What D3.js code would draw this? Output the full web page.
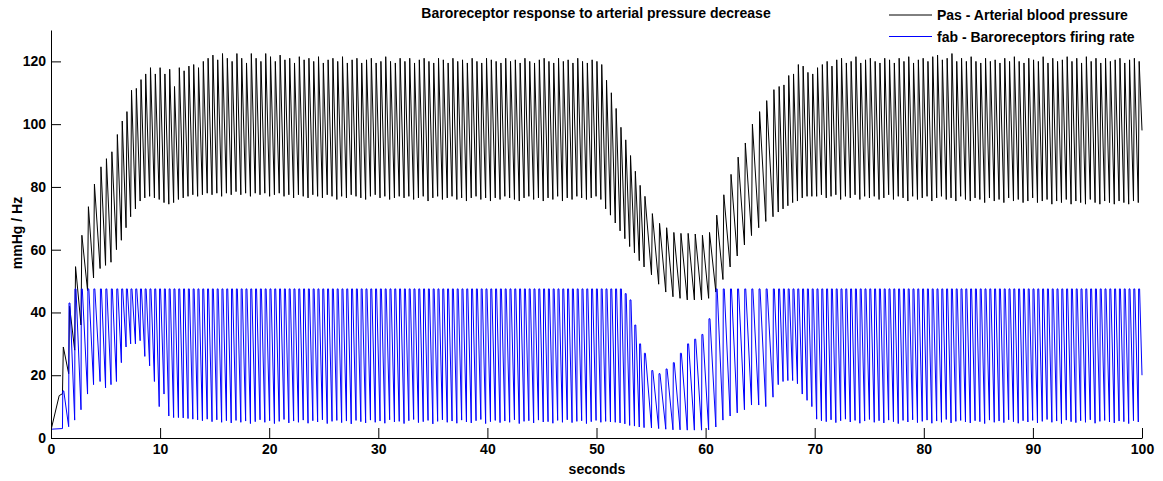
<!DOCTYPE html>
<html lang="en">
<head>
<meta charset="UTF-8">
<title>Baroreceptor response to arterial pressure decrease</title>
<script src="https://d3js.org/d3.v7.min.js"></script>
<style>
  body { margin: 0; background: #fff; }
  svg text { font-family: "Liberation Sans", Arial, Helvetica, sans-serif; font-weight: bold; }
</style>
</head>
<body>
<svg width="1163" height="481"></svg>
<script>
// ---- data (one entry per heart beat) ----
// beat onsets, seconds
const beatT = [
  1.05, 1.62, 2.17, 2.75, 3.35, 3.9, 4.5, 5.0, 5.5, 6.0, 6.45, 6.88, 7.3, 7.74, 8.17, 8.6, 9.04, 9.48, 9.92,
  10.36, 10.80, 11.24, 11.68, 12.12, 12.56, 13.00, 13.44, 13.88, 14.32,
  14.76, 15.20, 15.64, 16.08, 16.52, 16.96, 17.40, 17.84, 18.28, 18.72,
  19.16, 19.60, 20.04, 20.48, 20.92, 21.36, 21.80, 22.24, 22.68, 23.12,
  23.56, 24.00, 24.44, 24.88, 25.32, 25.76, 26.20, 26.64, 27.08, 27.52,
  27.96, 28.40, 28.84, 29.28, 29.72, 30.16, 30.60, 31.04, 31.48, 31.92,
  32.36, 32.80, 33.24, 33.68, 34.12, 34.56, 35.00, 35.44, 35.88, 36.32,
  36.76, 37.20, 37.64, 38.08, 38.52, 38.96, 39.40, 39.84, 40.28, 40.72,
  41.16, 41.60, 42.04, 42.48, 42.92, 43.36, 43.80, 44.24, 44.68, 45.12,
  45.56, 46.00, 46.44, 46.88, 47.32, 47.76, 48.20, 48.64, 49.08, 49.52,
  49.96, 50.40, 50.84, 51.28, 51.72, 52.16, 52.60, 53.04, 53.48, 53.92, 54.36,
  55.04, 55.70, 56.35, 57.01, 57.66, 58.32, 58.97, 59.63, 60.28, 60.94,
  61.59, 62.25, 62.90, 63.56, 64.21, 64.87, 65.52, 66.18,
  66.66, 67.10, 67.54, 67.98, 68.42, 68.86, 69.30, 69.74, 70.18, 70.62,
  71.06, 71.50, 71.94, 72.38, 72.82, 73.26, 73.70, 74.14, 74.58, 75.02,
  75.46, 75.90, 76.34, 76.78, 77.22, 77.66, 78.10, 78.54, 78.98, 79.42,
  79.86, 80.30, 80.74, 81.18, 81.62, 82.06, 82.50, 82.94, 83.38, 83.82,
  84.26, 84.70, 85.14, 85.58, 86.02, 86.46, 86.90, 87.34, 87.78, 88.22,
  88.66, 89.10, 89.54, 89.98, 90.42, 90.86, 91.30, 91.74, 92.18, 92.62,
  93.06, 93.50, 93.94, 94.38, 94.82, 95.26, 95.70, 96.14, 96.58, 97.02,
  97.46, 97.90, 98.34, 98.78, 99.22, 99.66
];

// Pas systolic peak of each beat, mmHg
const pasPeak = [
  29, 42, 54.6, 64.6, 73.7, 80.9, 86.4, 89, 91.2, 96.7, 101, 104, 110.8, 111.4, 114.2, 116, 118, 116, 118,
  116, 117.5, 112, 118, 117, 118.5, 119, 118, 120, 121,
  122, 120.5, 122.5, 121, 120, 122.5, 121, 119.5, 122.5, 121,
  120, 122.5, 121.5, 120, 122, 120.5, 121, 119.5, 121.5, 120.5,
  121, 120, 121.5, 119.5, 120.5, 121, 120, 121.5, 119.5, 120.5,
  121, 119.5, 120.5, 121, 119.5, 120, 121.5, 120, 119.5, 121,
  120, 121, 119.5, 120.5, 121, 120, 119.5, 121, 120.5, 119.5,
  121, 120, 120.5, 119.5, 121, 120, 119.5, 121, 120.5, 120,
  119.5, 121, 120, 120.5, 119.5, 121, 120, 119.5, 120.5, 121,
  120, 119.5, 121, 120, 120.5, 119.5, 121, 120, 119.5, 120.5,
  120, 119, 114, 110, 105, 99, 95, 90, 85, 80.5, 77,
  71.5, 68.4, 67, 65.5, 65.2, 65.2, 65, 64.6, 65.5, 71,
  77.5, 84, 89.5, 94, 100, 104, 107.5, 111,
  112, 112.5, 115.5, 116, 119, 118.5, 116.5, 116, 118, 119,
  120, 118.5, 120.5, 121, 119.5, 120, 121.5, 119.5, 120.5, 121,
  120, 119.5, 121, 120.5, 119.5, 121, 120, 121.5, 119.5, 120.5,
  121, 120, 121.5, 122, 120.5, 121, 122.5, 120, 121, 120,
  121.5, 120, 119.5, 121, 120, 120.5, 119.5, 121, 120, 121.5,
  120, 119.5, 121, 120.5, 120, 121.5, 119.5, 121, 120, 120.5,
  121.5, 120, 121, 119.5, 121.5, 120, 121, 119.5, 121, 120,
  120.5, 121, 119.5, 120.5, 121, 120
];

// Pas diastolic value at each beat onset, mmHg
const pasTrough = [
  14, 20.5, 28, 36, 47, 51, 54, 55, 56, 60, 63, 67, 70.5, 73, 75.5, 76.5, 77, 76.5, 76,
  75, 74.5, 75, 76, 76.5, 77, 77.5, 77, 77.5, 78,
  77.5, 78, 77, 78, 77.5, 78.5, 77.5, 78, 77, 78,
  77.5, 78, 77, 77.5, 78, 77, 77.5, 76.5, 77.5, 77,
  76.5, 77.5, 77, 76.5, 77.5, 77, 76, 77, 76.5, 77.5,
  77, 76.5, 76, 77, 77.5, 76.5, 77, 76, 76.5, 77,
  76.5, 77, 76, 76.5, 77, 75.5, 76.5, 77, 76, 76.5,
  77, 76, 76.5, 75.5, 76.5, 77, 76, 76.5, 75.5, 76.5,
  76, 77, 76.5, 76, 75.5, 76.5, 77, 76, 76.5, 75.5,
  76.5, 76, 77, 75.5, 76.5, 76, 77, 76.5, 76, 76.5,
  77, 76, 73, 71, 68.5, 66, 63.5, 61, 59, 56.5, 54.5,
  52, 49, 46.5, 45, 44.5, 44, 44, 44, 44.5, 46.5,
  50.5, 54.5, 58, 61.5, 64.5, 67, 69, 70.5,
  72, 73, 74, 75, 75.5, 76.5, 77, 77, 77, 77.5,
  76.5, 77, 77.5, 76, 77, 76.5, 77.5, 76, 77, 76.5,
  77, 76, 76.5, 77.5, 76, 77, 76.5, 75.5, 77, 76,
  76.5, 77, 75.5, 76.5, 77, 76, 76.5, 75.5, 77, 76,
  75.5, 76.5, 76, 75, 76.5, 75.5, 76, 75, 76.5, 75.5,
  76, 75, 75.5, 76.5, 75, 75.5, 76, 74.5, 75.5, 75,
  76, 74.5, 75.5, 75, 74.5, 76, 75, 74.5, 75.5, 75,
  74.5, 75.5, 75, 74.5, 75.5, 75
];

// fab peak of each beat, Hz
const fabPeak = [
  15, 43, 47.5, 47.5, 47.5, 47.5, 47.5, 47.5, 47.5, 47.5, 47.5, 47.5, 47.5, 47.5, 47.5, 47.5, 47.5, 47.5, 47.5,
  47.5, 47.5, 47.5, 47.5, 47.5, 47.5, 47.5, 47.5, 47.5, 47.5, 47.5, 47.5,
  47.5, 47.5, 47.5, 47.5, 47.5, 47.5, 47.5, 47.5, 47.5, 47.5, 47.5, 47.5,
  47.5, 47.5, 47.5, 47.5, 47.5, 47.5, 47.5, 47.5, 47.5, 47.5, 47.5, 47.5,
  47.5, 47.5, 47.5, 47.5, 47.5, 47.5, 47.5, 47.5, 47.5, 47.5, 47.5, 47.5,
  47.5, 47.5, 47.5, 47.5, 47.5, 47.5, 47.5, 47.5, 47.5, 47.5, 47.5, 47.5,
  47.5, 47.5, 47.5, 47.5, 47.5, 47.5, 47.5, 47.5, 47.5, 47.5, 47.5, 47.5,
  47.5, 47.5, 47.5, 47.5, 47.5, 47.5, 47.5, 47.5, 47.5, 47.5, 47.5, 47.5,
  47.5, 47.5, 47.5, 47.5, 47.5, 47.5, 47.5, 47.5, 47.5, 47.5, 47.5, 47.5,
  46, 44, 36, 30, 27,
  21.5, 20.5, 22, 24, 27, 30, 31.5, 33, 38, 47.5,
  47.5, 47.5, 47.5, 47.5, 47.5, 47.5, 47.5, 47.5,
  47.5, 47.5, 47.5, 47.5, 47.5, 47.5, 47.5, 47.5, 47.5, 47.5, 47.5, 47.5,
  47.5, 47.5, 47.5, 47.5, 47.5, 47.5, 47.5, 47.5, 47.5, 47.5, 47.5, 47.5,
  47.5, 47.5, 47.5, 47.5, 47.5, 47.5, 47.5, 47.5, 47.5, 47.5, 47.5, 47.5,
  47.5, 47.5, 47.5, 47.5, 47.5, 47.5, 47.5, 47.5, 47.5, 47.5, 47.5, 47.5,
  47.5, 47.5, 47.5, 47.5, 47.5, 47.5, 47.5, 47.5, 47.5, 47.5, 47.5, 47.5,
  47.5, 47.5, 47.5, 47.5, 47.5, 47.5, 47.5, 47.5, 47.5, 47.5, 47.5, 47.5,
  47.5, 47.5, 47.5, 47.5
];

// fab value at each beat onset (minimum before the burst), Hz
const fabTrough = [
  3.0, 3.6, 5.7, 9, 14, 17, 18, 16, 17, 18, 24, 29, 30, 30, 31, 26, 23, 18, 10,
  14, 7, 6.5, 6.5, 6.4, 6.2, 6, 5.8, 5.5, 6,
  5.2, 5.8, 5, 5.5, 4.8, 5.6, 5, 5.4, 4.6, 5.2,
  5.8, 5, 5.5, 4.6, 5.3, 5.9, 4.8, 5.4, 5, 5.7,
  4.7, 5.5, 5.1, 5.8, 4.6, 5.3, 5.6, 4.9, 5.4, 4.5,
  5.6, 5.2, 4.8, 5.7, 5, 5.4, 4.7, 5.8, 5.1, 5.3,
  4.6, 5.5, 5.9, 4.9, 5.2, 5.6, 4.5, 5.3, 5.8, 5,
  5.4, 4.7, 5.7, 5.1, 4.8, 5.5, 5.9, 4.6, 5.2, 5.6,
  4.9, 5.4, 5, 5.8, 4.6, 5.3, 5.5, 4.8, 5.7, 5.1,
  5.2, 4.7, 5.6, 5, 5.8, 4.9, 5.3, 5.5, 4.6, 5.2,
  5.6, 5, 5.3, 5.1, 5, 4.8, 4.5, 4, 3.8, 3.5, 3.3,
  3.2, 3, 2.8, 2.6, 2.6, 2.5, 2.5, 2.5, 2.6, 3.5,
  5.7, 7, 8, 9, 10.5, 10.5, 10, 13,
  17, 18, 18.3, 18.3, 17.3, 14, 12, 10, 6, 5.5,
  5.2, 5.8, 4.9, 5.5, 6, 5.1, 5.6, 4.7, 5.4, 5.9,
  5, 5.5, 4.8, 5.7, 5.2, 4.6, 5.6, 5.1, 5.8, 4.9,
  5.3, 5.7, 4.7, 5.4, 5, 5.9, 4.8, 5.3, 5.6, 5.1,
  4.8, 5.5, 5.2, 4.6, 5.7, 5, 5.4, 4.9, 5.8, 5.2,
  4.7, 5.5, 5.1, 5.6, 4.8, 5.3, 5.9, 5, 5.4, 4.6,
  5.7, 5.2, 4.9, 5.5, 5, 5.8, 4.7, 5.3, 5.6, 5.1,
  4.8, 5.4, 5.2, 4.6, 5.5, 5.1
];

// start-up ramp before the first beat and value at the right edge
const pasLeadT = [0, 0.75, 1.0];
const pasLeadV = [2.5, 13.5, 14];
const fabLeadT = [0, 1.0];
const fabLeadV = [2.8, 3.0];
const pasEnd = 98;
const fabEnd = 20;

const xTicks = [0, 10, 20, 30, 40, 50, 60, 70, 80, 90, 100];
const yTicks = [0, 20, 40, 60, 80, 100, 120];

// ---- drawing ----
const svg = d3.select("svg");
const width = +svg.attr("width");
const height = +svg.attr("height");

const x = d3.scaleLinear().domain([0, 100]).range([51, 1142]);
const y = d3.scaleLinear().domain([0, 130]).range([438, 30]);

const RISE = 0.08;   // upstroke duration of a pressure pulse
const FRISE = 0.03, FHOLD = 0.12;

const n = Math.min(beatT.length, pasPeak.length, pasTrough.length, fabPeak.length, fabTrough.length);
console.log("beats", beatT.length, pasPeak.length, pasTrough.length, fabPeak.length, fabTrough.length);

const pasPts = pasLeadT.map((t, i) => [t, pasLeadV[i]]);
const fabPts = fabLeadT.map((t, i) => [t, fabLeadV[i]]);
for (let i = 0; i < n; i++) {
    pasPts.push([beatT[i], pasTrough[i]], [beatT[i] + RISE, pasPeak[i]]);
    fabPts.push([beatT[i], fabTrough[i]], [beatT[i] + FRISE, fabPeak[i]], [beatT[i] + FHOLD, fabPeak[i]]);
}
pasPts.push([100, pasEnd]);
fabPts.push([100, fabEnd]);

svg.append("defs").append("clipPath").attr("id", "plot")
    .append("rect").attr("x", 51).attr("y", 20).attr("width", 1092).attr("height", 419);

const line = d3.line().x(d => x(d[0])).y(d => y(d[1]));

const plot = svg.append("g").attr("clip-path", "url(#plot)");
plot.append("path").datum(pasPts)
    .attr("d", line).attr("fill", "none").attr("stroke", "#000").attr("stroke-width", 1);
plot.append("path").datum(fabPts)
    .attr("d", line).attr("fill", "none").attr("stroke", "#0000ff").attr("stroke-width", 1);

// axes (MATLAB style: ticks inside, no box)
const xAxis = svg.append("g").attr("transform", `translate(0,${y(0)})`)
    .call(d3.axisBottom(x).tickValues(xTicks).tickSizeInner(-10).tickSizeOuter(0).tickPadding(6));
const yAxis = svg.append("g").attr("transform", `translate(${x(0)},0)`)
    .call(d3.axisLeft(y).tickValues(yTicks).tickSizeInner(-10).tickSizeOuter(0).tickPadding(5));

[xAxis, yAxis].forEach(g => {
    g.selectAll("path, line").attr("stroke", "#000");
    g.selectAll("text").attr("font-size", 14).attr("fill", "#000")
        .style("font-family", '"Liberation Sans", Arial, sans-serif').style("font-weight", "bold");
});

svg.append("text").attr("x", 596).attr("y", 18).attr("text-anchor", "middle")
    .attr("font-size", 14).text("Baroreceptor response to arterial pressure decrease");

svg.append("text").attr("x", 597).attr("y", 474).attr("text-anchor", "middle")
    .attr("font-size", 14).text("seconds");

svg.append("text").attr("transform", "translate(22,233) rotate(-90)").attr("text-anchor", "middle")
    .attr("font-size", 14).text("mmHg / Hz");

// legend
const legend = [
    {label: "Pas - Arterial blood pressure", color: "#000", y: 15},
    {label: "fab - Baroreceptors firing rate", color: "#0000ff", y: 36.5}
];
const lg = svg.append("g");
legend.forEach(d => {
    lg.append("line").attr("x1", 889).attr("x2", 932).attr("y1", d.y).attr("y2", d.y)
        .attr("stroke", d.color).attr("stroke-width", 1);
    lg.append("text").attr("x", 937).attr("y", d.y + 5).attr("font-size", 14).text(d.label);
});
</script>
</body>
</html>
